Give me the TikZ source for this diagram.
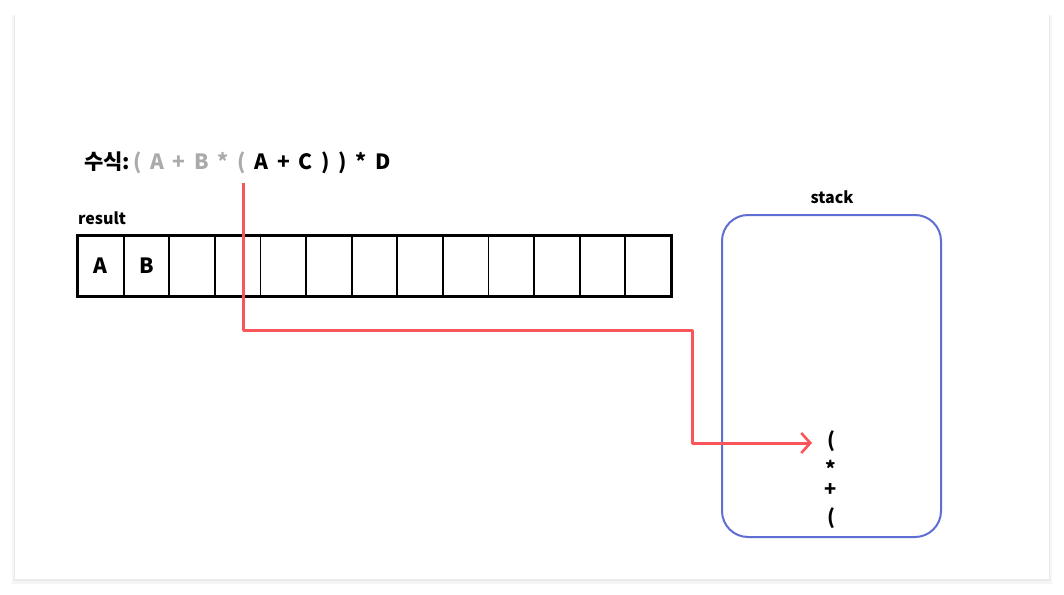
\documentclass[tikz,border=0pt]{standalone}
\usepackage{fontspec}
\setmainfont{Noto Sans CJK KR}
\usetikzlibrary{arrows.meta}
\definecolor{redline}{RGB}{250,85,90}
\definecolor{stackblue}{RGB}{95,110,210}
\definecolor{grayt}{RGB}{170,170,170}
\begin{document}
\begin{tikzpicture}[x=1pt,y=-1pt,
  cell/.style={draw=black,line width=1.8pt,minimum width=45.6pt,minimum height=60pt,inner sep=0pt,font=\bfseries\fontsize{21}{23}\selectfont},
  lbl/.style={font=\bfseries\fontsize{16}{18}\selectfont,inner sep=0pt},
  item/.style={font=\bfseries\fontsize{20}{22}\selectfont,inner sep=0pt},
  redpath/.style={draw=redline,line width=3pt,line join=round,-{Straight Barb[length=9pt,width=20pt,line width=2.6pt]}}]
\useasboundingbox (0,0) rectangle (1064,594);
\fill[black!4] (12,15) rectangle (1052,584);
\fill[black!8] (14,16) rectangle (1050,581);
\fill[white] (15,15) rectangle (1049,579);
% formula
\node[anchor=base west,inner sep=0pt,font=\bfseries\fontsize{21}{23}\selectfont] (formula) at (84,169)
  {\spaceskip=8.7pt 수식:\hspace{3pt}\textcolor{grayt}{( A + B * (} A + C ) ) * D};
\node[lbl,anchor=base west] (result) at (78,224) {result};
% cells
\foreach \i in {0,...,12}
  \node[cell] (c\i) at ({100.8+45.6*\i},266) {};
\node[font=\bfseries\fontsize{21}{23}\selectfont] at (c0) {A};
\node[font=\bfseries\fontsize{21}{23}\selectfont] at (c1) {B};
\draw[line width=2.4pt] (c0.north west) rectangle (c12.south east);
% stack
\node[draw=stackblue,line width=2pt,rounded corners=26pt,minimum width=219pt,minimum height=322pt,inner sep=0pt] (stack) at (831.5,376) {};
\node[lbl,anchor=base] (stacklbl) at (832,203) {stack};
\node[item] (s1) at (831,441) {(};
\node[item] (s2) at (831,468) {*};
\node[item] (s3) at (831,490) {+};
\node[item] (s4) at (831,518) {(};
% red connector
\coordinate (start) at (243,183);
\coordinate (turn) at (692,330);
\coordinate (tip) at (812,443);
\draw[redpath] (start) |- (turn) |- (tip);
\end{tikzpicture}
\end{document}
